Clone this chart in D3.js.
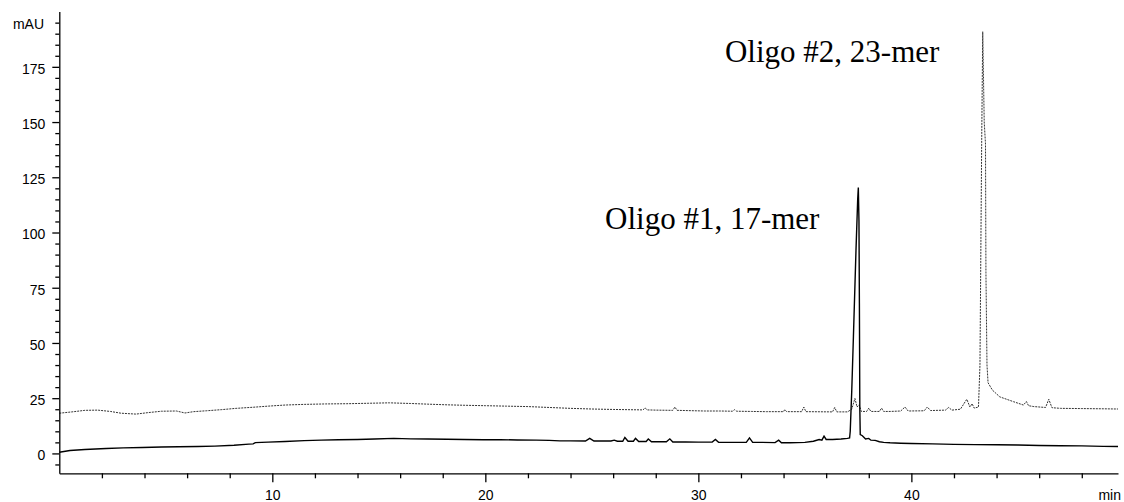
<!DOCTYPE html>
<html>
<head>
<meta charset="utf-8">
<script src="https://cdn.jsdelivr.net/npm/d3@7"></script>
<style>
  html, body { margin: 0; padding: 0; background: #fff; }
  svg { display: block; }
  .axis text { font-family: "Liberation Sans", Arial, sans-serif; font-size: 14px; fill: #000; }
  .axis path, .axis line { stroke: #000; stroke-width: 1.3; }
  .ann { font-family: "Liberation Serif", "Times New Roman", serif; font-size: 31px; fill: #000; }
</style>
</head>
<body>
<svg id="chart" width="1124" height="502"></svg>
<script>
// ---- data ----
// Trace 1 (solid): Oligo #1, 17-mer
const time1 = [0,0.5,1.2,2.2,3.0,3.9,4.8,5.6,6.5,7.3,8.2,8.9,9.1,9.2,9.8,10.6,11.5,12.3,13.1,14.0,14.8,15.7,16.5,17.3,18.2,19.0,19.9,20.7,21.5,22.4,23.0,23.5,24.0,24.7,24.9,25.1,25.9,26.05,26.2,26.45,26.55,26.7,26.95,27.05,27.2,27.55,27.65,27.8,28.5,28.66,28.8,29.4,30.0,30.65,30.8,30.95,31.5,32.25,32.4,32.55,33.0,33.6,33.77,33.9,34.3,35.0,35.4,35.67,35.8,35.9,36.0,36.3,36.7,37.0,37.1,37.13,37.2,37.28,37.4,37.48,37.51,37.54,37.56,37.58,37.6,37.7,37.85,38.0,38.1,38.3,38.5,38.7,39.0,39.5,40,41,42,43,44,45,46,47,48,49,49.7];
const value1 = [0.5,1.3,1.8,2.2,2.5,2.7,2.9,3.0,3.1,3.3,3.7,4.2,4.3,4.9,5.1,5.4,5.8,6.0,6.2,6.3,6.5,6.8,6.6,6.5,6.4,6.3,6.2,6.2,6.1,6.0,5.9,5.7,5.7,5.6,6.8,5.6,5.6,6.0,5.5,5.5,7.2,5.5,5.5,6.8,5.4,5.4,6.5,5.3,5.3,6.6,5.2,5.2,5.1,5.1,6.3,5.0,5.0,5.0,7.0,5.0,5.0,4.9,6.0,4.8,4.8,5.0,5.5,6.3,6.0,7.8,6.3,6.3,6.5,6.8,7.0,10,28,53,92,115,120.4,105,68,20,8.5,8.0,6.5,6.8,6.0,5.9,5.3,5.0,4.8,4.6,4.5,4.3,4.1,4.0,3.9,3.8,3.6,3.5,3.4,3.2,3.1];

// Trace 2 (dotted): Oligo #2, 23-mer
const time2 = [0,0.6,1.2,1.8,2.4,2.9,3.6,4.2,4.8,5.5,5.9,6.3,6.9,7.6,8.3,9.1,9.8,10.6,11.5,12.5,13.5,14.5,15.5,16.5,17.3,18.2,19.0,20.0,21.0,22.0,23.0,24.0,25.0,26.0,27.4,27.5,27.6,28.0,28.8,28.9,29.0,30.3,31.0,31.6,31.7,31.8,32.5,33.2,34.0,34.05,34.15,34.85,34.95,35.05,36.3,36.4,36.5,37.0,37.2,37.35,37.45,37.55,37.65,37.9,38.0,38.1,38.5,38.6,38.7,39.0,39.5,39.7,39.85,40.6,40.75,40.9,41.6,41.75,41.9,42.3,42.6,42.75,42.85,42.95,43.15,43.22,43.3,43.35,43.42,43.48,43.5,43.55,43.6,43.8,44.15,44.8,45.26,45.4,45.5,45.75,46.3,46.45,46.6,47,48,49,49.7];
const value2 = [18.2,18.8,19.5,19.6,19.0,18.2,17.8,18.5,19.1,19.2,18.3,18.9,19.3,19.8,20.4,20.9,21.4,21.9,22.2,22.4,22.5,22.7,22.9,22.6,22.3,22.0,21.8,21.6,21.4,21.2,20.8,20.4,20.1,19.9,19.7,20.6,19.7,19.6,19.5,21.0,19.5,19.2,19.2,19.1,19.8,19.1,19.0,18.9,18.9,19.8,18.9,18.9,21.0,18.9,18.8,20.8,18.8,18.8,20,24.9,21,22,19,19,20.5,19,19,20.5,19.0,19,19.2,21.0,19.2,19.3,21.0,19.4,19.6,20.8,19.6,20,24.5,21,22.5,20.5,21,40,140,190.9,150,140,82,40,32,28.7,25.6,23.4,21.9,23.5,21.6,21.2,20.8,24.5,20.7,20.4,20.3,20.2,20.1];

// Axis ticks
const yMajorTicks = [0,25,50,75,100,125,150,175];
const yMinorTicks = [-5,5,10,15,20,30,35,40,45,55,60,65,70,80,85,90,95,105,110,115,120,130,135,140,145,155,160,165,170,180,185,190,195];
const xMajorTicks = [10,20,30,40];
const xMinorTicks = [2,4,6,8,12,14,16,18,22,24,26,28,32,34,36,38,42,44,46,48];

const labels = [
  { text: "Oligo #1, 17-mer", t: 25.62, v: 101.4 },
  { text: "Oligo #2, 23-mer", t: 31.25, v: 177.3 }
];

// ---- drawing ----
const svg = d3.select("#chart");
const x = d3.scaleLinear().domain([0, 49.7]).range([59.3, 1118]);
const y = d3.scaleLinear().domain([-9, 200]).range([473.3, 11.6]);

const line = d3.line().x(d => x(d[0])).y(d => y(d[1]));
const pts1 = time1.map((t, i) => [t, value1[i]]);
const pts2 = time2.map((t, i) => [t, value2[i]]);

svg.append("path").datum(pts2).attr("d", line)
  .attr("fill", "none").attr("stroke", "#333").attr("stroke-width", 1)
  .attr("stroke-dasharray", "2,1");
svg.append("path").datum(pts1).attr("d", line)
  .attr("fill", "none").attr("stroke", "#000").attr("stroke-width", 1.4);

// Y axis
const gy = svg.append("g").attr("class", "axis").attr("transform", `translate(${x(0)},0)`);
gy.call(d3.axisLeft(y).tickValues(yMajorTicks).tickSize(7).tickPadding(7).tickSizeOuter(0));
gy.selectAll(".tick text").attr("dy", "0.45em");
const gyMinor = svg.append("g").attr("class", "axis").attr("transform", `translate(${x(0)},0)`);
gyMinor.call(d3.axisLeft(y).tickValues(yMinorTicks).tickSize(4).tickFormat("").tickSizeOuter(0));
gyMinor.select(".domain").remove();

// X axis
const gx = svg.append("g").attr("class", "axis").attr("transform", `translate(0,${y(-9)})`);
gx.call(d3.axisBottom(x).tickValues(xMajorTicks).tickSize(9).tickPadding(8).tickSizeOuter(0));
const gxMinor = svg.append("g").attr("class", "axis").attr("transform", `translate(0,${y(-9)})`);
gxMinor.call(d3.axisBottom(x).tickValues(xMinorTicks).tickSize(5).tickFormat("").tickSizeOuter(0));
gxMinor.select(".domain").remove();

// Axis unit labels
svg.append("text").attr("x", 44).attr("y", 29)
  .attr("text-anchor", "end")
  .style("font-family", "'Liberation Sans', Arial, sans-serif").style("font-size", "14px")
  .text("mAU");
svg.append("text").attr("x", 1121).attr("y", 500)
  .attr("text-anchor", "end")
  .style("font-family", "'Liberation Sans', Arial, sans-serif").style("font-size", "14px")
  .text("min");

// Peak annotations
svg.selectAll("text.ann").data(labels).enter().append("text")
  .attr("class", "ann")
  .attr("x", d => x(d.t)).attr("y", d => y(d.v))
  .text(d => d.text);
</script>
</body>
</html>
